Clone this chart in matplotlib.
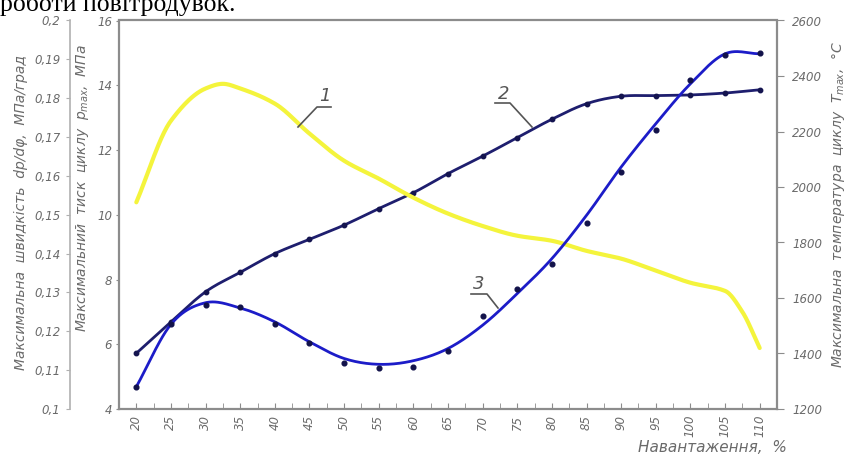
import numpy as np
import matplotlib
matplotlib.use("Agg")
import matplotlib.pyplot as plt
from matplotlib.lines import Line2D
from matplotlib.ticker import FuncFormatter, MultipleLocator

# ---------------- data ----------------
load = [20, 25, 30, 35, 40, 45, 50, 55, 60, 65, 70, 75, 80, 85, 90, 95, 100, 105, 110]

# curve 1: max rate of pressure rise dp/dphi, MPa/deg (read incl. peak and knee)
load_dp = [20, 25, 30, 32.5, 35, 40, 45, 50, 55, 60, 65, 70, 75, 80, 85, 90, 95, 100,
           105, 107.5, 110]
dpdphi = [0.1532, 0.1742, 0.1825, 0.1837, 0.1825, 0.1786, 0.1709, 0.1639, 0.1593,
          0.1544, 0.1503, 0.1471, 0.1446, 0.1433, 0.1407, 0.1387, 0.1356, 0.1325,
          0.1304, 0.1250, 0.1157]

# curve 2: max cycle pressure p_max, MPa
pmax = [5.72, 6.69, 7.62, 8.22, 8.80, 9.24, 9.68, 10.19, 10.68, 11.27, 11.81, 12.38,
        12.95, 13.43, 13.66, 13.68, 13.70, 13.76, 13.86]

# curve 3: max cycle temperature T_max, C (measured points)
tmax_pts = [1280, 1508, 1574, 1566, 1506, 1439, 1364, 1349, 1352, 1409, 1536, 1634,
            1724, 1872, 2054, 2204, 2387, 2474, 2484]
# curve 3: smoothed trend line as drawn in the picture
tmax_fit = [1280, 1505, 1583, 1564, 1514, 1442, 1382, 1361, 1374, 1418, 1502, 1616,
            1742, 1898, 2072, 2228, 2372, 2480, 2480]

xticks = [20, 25, 30, 35, 40, 45, 50, 55, 60, 65, 70, 75, 80, 85, 90, 95, 100, 105, 110]
p_ticks = [4, 6, 8, 10, 12, 14, 16]
dp_ticks = [0.1, 0.11, 0.12, 0.13, 0.14, 0.15, 0.16, 0.17, 0.18, 0.19, 0.2]
t_ticks = [1200, 1400, 1600, 1800, 2000, 2200, 2400, 2600]


def smooth(x, y, n=25, mode="cr"):
    x = np.asarray(x, float)
    y = np.asarray(y, float)
    d = np.diff(y) / np.diff(x)
    m = np.zeros_like(y)
    if mode == "cr":
        m[1:-1] = (y[2:] - y[:-2]) / (x[2:] - x[:-2])
    else:  # monotone (Fritsch-Carlson style)
        for i in range(1, len(y) - 1):
            if d[i - 1] * d[i] <= 0:
                m[i] = 0.0
            else:
                m[i] = 2.0 / (1.0 / d[i - 1] + 1.0 / d[i])
    m[0] = d[0]
    m[-1] = d[-1]
    xs, ys = [], []
    for i in range(len(x) - 1):
        h = x[i + 1] - x[i]
        t = np.linspace(0, 1, n, endpoint=False)
        h00 = 2 * t**3 - 3 * t**2 + 1
        h10 = t**3 - 2 * t**2 + t
        h01 = -2 * t**3 + 3 * t**2
        h11 = t**3 - t**2
        xs.append(x[i] + t * h)
        ys.append(h00 * y[i] + h10 * h * m[i] + h01 * y[i + 1] + h11 * h * m[i + 1])
    xs.append([x[-1]])
    ys.append([y[-1]])
    return np.concatenate(xs), np.concatenate(ys)


W, H = 847, 461
GRAY = "#6a6a6a"
SPINE = "#8c8c8c"
TFONT = dict(family=["DejaVu Sans"], style="italic", color=GRAY)

fig = plt.figure(figsize=(W / 100, H / 100), dpi=100)
L, R, T, B = 119, 777, 20.5, 409
ax = fig.add_axes([L / W, 1 - B / H, (R - L) / W, (B - T) / H])
ax.set_xlim(17.5, 112.5)
ax.set_ylim(4, 16)

ax_dp = ax.twinx()
ax_dp.set_ylim(0.1, 0.2)
ax_T = ax.twinx()
ax_T.set_ylim(1200, 2600)

# ---- curves ----
sx, sy = smooth(load_dp, dpdphi, mode="mono")
ax_dp.plot(sx, sy, color="#f4f43c", lw=3.0, solid_capstyle="round", zorder=2)

sx, sy = smooth(load, pmax)
ax.plot(sx, sy, color="#1e1e6e", lw=2.0, zorder=3)
ax.plot(load, pmax, "o", color="#14144f", ms=3.2, zorder=4)

sx, sy = smooth(load, tmax_fit)
ax_T.plot(sx, sy, color="#1c1cc8", lw=2.0, zorder=3)
ax_T.plot(load, tmax_pts, "o", color="#12124a", ms=3.4, zorder=4)

# ---- main axis styling ----
for s in ["left", "right", "top", "bottom"]:
    ax.spines[s].set_color(SPINE)
    ax.spines[s].set_linewidth(1.6)
for a in (ax_dp, ax_T):
    for s in ["left", "right", "top", "bottom"]:
        a.spines[s].set_visible(False)

ax.set_xticks(xticks)
ax.set_xticklabels([str(v) for v in xticks], rotation=90, fontsize=8.5, **TFONT)
ax.xaxis.set_minor_locator(MultipleLocator(2.5))
ax.tick_params(axis="x", which="both", direction="in", length=4, color=SPINE, pad=4)

ax.set_yticks(p_ticks)
ax.set_yticklabels([str(v) for v in p_ticks], fontsize=8.5, **TFONT)
ax.tick_params(axis="y", direction="out", length=2, color=SPINE, pad=3)

# outer left axis dp/dphi
ax_dp.spines["left"].set_visible(True)
ax_dp.spines["left"].set_position(("axes", -(L - 70) / (R - L)))
ax_dp.spines["left"].set_color("#b0b0b0")
ax_dp.spines["left"].set_linewidth(1.2)
ax_dp.yaxis.set_ticks_position("left")
ax_dp.set_yticks(dp_ticks)
ax_dp.yaxis.set_major_formatter(FuncFormatter(lambda v, p: ("%g" % round(v, 2)).replace(".", ",")))
for t in ax_dp.get_yticklabels():
    t.set_fontsize(8.5)
    t.set_fontstyle("italic")
    t.set_color(GRAY)
ax_dp.tick_params(axis="y", direction="out", length=3, color="#b0b0b0", pad=4)

# right axis T
ax_T.set_yticks(t_ticks)
ax_T.set_yticklabels([str(v) for v in t_ticks], fontsize=8.5, **TFONT)
ax_T.tick_params(axis="y", direction="out", length=5, color=SPINE, pad=6)

# ---- axis titles ----
lab = dict(style="italic", color=GRAY, fontsize=10, family=["DejaVu Sans"],
           ha="center", va="center", rotation=90)
fig.text(21 / W, 1 - 212 / H, "Максимальна  швидкість  dp/dφ,  МПа/град", **lab)
fig.text(83 / W, 1 - 188 / H, "Максимальний  тиск  циклу  $p_{max}$,  МПа", **lab)
fig.text(838 / W, 1 - 205 / H, "Максимальна  температура  циклу  $T_{max}$,  °C", **lab)
fig.text(712 / W, 1 - 447 / H, "Навантаження,  %", style="italic", color=GRAY,
         fontsize=11, family=["DejaVu Sans"], ha="center", va="center")

# ---- curve number leaders ----
def px(x, y):
    return x / W, 1 - y / H

leaders = [
    ("1", [(298, 127), (317, 107), (331, 107)], (325, 96)),
    ("2", [(532, 127), (510, 103), (495, 103)], (504, 94)),
    ("3", [(498, 308), (487, 294), (471, 294)], (479, 284)),
]
for lbl, pts, tp in leaders:
    xs = [px(*p)[0] for p in pts]
    ys = [px(*p)[1] for p in pts]
    fig.add_artist(Line2D(xs, ys, transform=fig.transFigure, color="#555555", lw=1.2))
    fig.text(*px(*tp), lbl, style="italic", color="#555555", fontsize=13,
             family=["DejaVu Sans"], ha="center", va="center")

# surrounding document text (cut at top)
fig.text(0, 1 - 11 / H, "роботи повітродувок.", family=["Liberation Serif"],
         fontsize=18.5, color="black", ha="left", va="baseline")

fig.savefig("out.png", dpi=100)
